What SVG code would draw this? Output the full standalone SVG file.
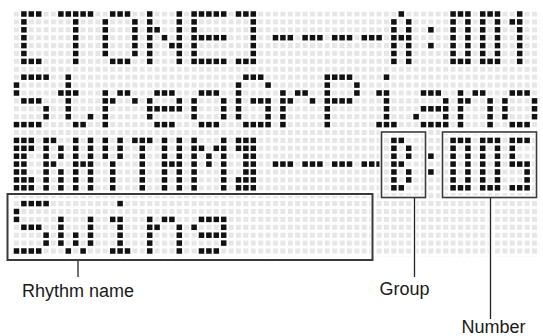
<svg xmlns="http://www.w3.org/2000/svg" width="543" height="336" viewBox="0 0 543 336">
<style>
.lbl{font-family:"Liberation Sans",Arial,Helvetica,sans-serif;font-size:18px;fill:#1a1a1a}
.box{fill:none;stroke:#3a3a3a;stroke-width:1.6}
.halo{fill:none;stroke:#fff;stroke-width:4}
.con{stroke:#222;stroke-width:1.3;fill:none}
.conh{stroke:#fff;stroke-width:4;fill:none}
</style>
<defs>
<pattern id="grid" x="14" y="11.5" width="7.4" height="7.9" patternUnits="userSpaceOnUse"><rect width="5" height="5" fill="#e6e6e6"/></pattern>
<rect id="d" x="-0.034" y="-0.032" width="0.743" height="0.696"/>
<g id="g-lb"><use href="#d" x="0"/><use href="#d" x="1"/><use href="#d" x="2"/><use href="#d" y="1"/><use href="#d" y="2"/><use href="#d" y="3"/><use href="#d" y="4"/><use href="#d" y="5"/><use href="#d" y="6"/><use href="#d" x="1" y="6"/><use href="#d" x="2" y="6"/></g>
<g id="g-rb"><use href="#d" x="0"/><use href="#d" x="1"/><use href="#d" x="2"/><use href="#d" x="2" y="1"/><use href="#d" x="2" y="2"/><use href="#d" x="2" y="3"/><use href="#d" x="2" y="4"/><use href="#d" x="2" y="5"/><use href="#d" y="6"/><use href="#d" x="1" y="6"/><use href="#d" x="2" y="6"/></g>
<g id="g-T"><use href="#d" x="0"/><use href="#d" x="1"/><use href="#d" x="2"/><use href="#d" x="3"/><use href="#d" x="4"/><use href="#d" x="2" y="1"/><use href="#d" x="2" y="2"/><use href="#d" x="2" y="3"/><use href="#d" x="2" y="4"/><use href="#d" x="2" y="5"/><use href="#d" x="2" y="6"/></g>
<g id="g-O"><use href="#d" x="1"/><use href="#d" x="2"/><use href="#d" x="3"/><use href="#d" y="1"/><use href="#d" x="4" y="1"/><use href="#d" y="2"/><use href="#d" x="4" y="2"/><use href="#d" y="3"/><use href="#d" x="4" y="3"/><use href="#d" y="4"/><use href="#d" x="4" y="4"/><use href="#d" y="5"/><use href="#d" x="4" y="5"/><use href="#d" x="1" y="6"/><use href="#d" x="2" y="6"/><use href="#d" x="3" y="6"/></g>
<g id="g-N"><use href="#d"/><use href="#d" x="4"/><use href="#d" y="1"/><use href="#d" x="4" y="1"/><use href="#d" y="2"/><use href="#d" x="1" y="2"/><use href="#d" x="4" y="2"/><use href="#d" y="3"/><use href="#d" x="2" y="3"/><use href="#d" x="4" y="3"/><use href="#d" y="4"/><use href="#d" x="3" y="4"/><use href="#d" x="4" y="4"/><use href="#d" y="5"/><use href="#d" x="4" y="5"/><use href="#d" y="6"/><use href="#d" x="4" y="6"/></g>
<g id="g-E"><use href="#d"/><use href="#d" x="1"/><use href="#d" x="2"/><use href="#d" x="3"/><use href="#d" x="4"/><use href="#d" y="1"/><use href="#d" y="2"/><use href="#d" y="3"/><use href="#d" x="1" y="3"/><use href="#d" x="2" y="3"/><use href="#d" x="3" y="3"/><use href="#d" x="4" y="3"/><use href="#d" y="4"/><use href="#d" y="5"/><use href="#d" y="6"/><use href="#d" x="1" y="6"/><use href="#d" x="2" y="6"/><use href="#d" x="3" y="6"/><use href="#d" x="4" y="6"/></g>
<g id="g-dash"><use href="#d" y="3"/><use href="#d" x="1" y="3"/><use href="#d" x="2" y="3"/></g>
<g id="g-A"><use href="#d" x="1"/><use href="#d" y="1"/><use href="#d" x="2" y="1"/><use href="#d" y="2"/><use href="#d" x="2" y="2"/><use href="#d" y="3"/><use href="#d" x="1" y="3"/><use href="#d" x="2" y="3"/><use href="#d" y="4"/><use href="#d" x="2" y="4"/><use href="#d" y="5"/><use href="#d" x="2" y="5"/><use href="#d" y="6"/><use href="#d" x="2" y="6"/></g>
<g id="g-col"><use href="#d" y="2"/><use href="#d" y="4"/></g>
<g id="g-0"><use href="#d"/><use href="#d" x="1"/><use href="#d" x="2"/><use href="#d" y="1"/><use href="#d" x="2" y="1"/><use href="#d" y="2"/><use href="#d" x="2" y="2"/><use href="#d" y="3"/><use href="#d" x="2" y="3"/><use href="#d" y="4"/><use href="#d" x="2" y="4"/><use href="#d" y="5"/><use href="#d" x="2" y="5"/><use href="#d" y="6"/><use href="#d" x="1" y="6"/><use href="#d" x="2" y="6"/></g>
<g id="g-1"><use href="#d" x="1"/><use href="#d" y="1"/><use href="#d" x="1" y="1"/><use href="#d" x="1" y="2"/><use href="#d" x="1" y="3"/><use href="#d" x="1" y="4"/><use href="#d" x="1" y="5"/><use href="#d" x="1" y="6"/></g>
<g id="g-5"><use href="#d"/><use href="#d" x="1"/><use href="#d" x="2"/><use href="#d" y="1"/><use href="#d" y="2"/><use href="#d" y="3"/><use href="#d" x="1" y="3"/><use href="#d" x="2" y="3"/><use href="#d" x="2" y="4"/><use href="#d" x="2" y="5"/><use href="#d" y="6"/><use href="#d" x="1" y="6"/><use href="#d" x="2" y="6"/></g>
<g id="g-B"><use href="#d"/><use href="#d" x="1"/><use href="#d" y="1"/><use href="#d" x="2" y="1"/><use href="#d" y="2"/><use href="#d" x="2" y="2"/><use href="#d" y="3"/><use href="#d" x="1" y="3"/><use href="#d" y="4"/><use href="#d" x="2" y="4"/><use href="#d" y="5"/><use href="#d" x="2" y="5"/><use href="#d" y="6"/><use href="#d" x="1" y="6"/></g>
<g id="g-S"><use href="#d" x="1"/><use href="#d" x="2"/><use href="#d" x="3"/><use href="#d" x="4"/><use href="#d" y="1"/><use href="#d" y="2"/><use href="#d" x="1" y="3"/><use href="#d" x="2" y="3"/><use href="#d" x="3" y="3"/><use href="#d" x="4" y="4"/><use href="#d" x="4" y="5"/><use href="#d" y="6"/><use href="#d" x="1" y="6"/><use href="#d" x="2" y="6"/><use href="#d" x="3" y="6"/></g>
<g id="g-t"><use href="#d" x="1"/><use href="#d" x="1" y="1"/><use href="#d" y="2"/><use href="#d" x="1" y="2"/><use href="#d" x="2" y="2"/><use href="#d" x="1" y="3"/><use href="#d" x="1" y="4"/><use href="#d" x="1" y="5"/><use href="#d" x="4" y="5"/><use href="#d" x="2" y="6"/><use href="#d" x="3" y="6"/></g>
<g id="g-r"><use href="#d" y="2"/><use href="#d" x="2" y="2"/><use href="#d" x="3" y="2"/><use href="#d" y="3"/><use href="#d" x="1" y="3"/><use href="#d" x="4" y="3"/><use href="#d" y="4"/><use href="#d" y="5"/><use href="#d" y="6"/></g>
<g id="g-e"><use href="#d" x="1" y="2"/><use href="#d" x="2" y="2"/><use href="#d" x="3" y="2"/><use href="#d" y="3"/><use href="#d" x="4" y="3"/><use href="#d" y="4"/><use href="#d" x="1" y="4"/><use href="#d" x="2" y="4"/><use href="#d" x="3" y="4"/><use href="#d" x="4" y="4"/><use href="#d" y="5"/><use href="#d" x="1" y="6"/><use href="#d" x="2" y="6"/><use href="#d" x="3" y="6"/></g>
<g id="g-o"><use href="#d" x="1" y="2"/><use href="#d" x="2" y="2"/><use href="#d" x="3" y="2"/><use href="#d" y="3"/><use href="#d" x="4" y="3"/><use href="#d" y="4"/><use href="#d" x="4" y="4"/><use href="#d" y="5"/><use href="#d" x="4" y="5"/><use href="#d" x="1" y="6"/><use href="#d" x="2" y="6"/><use href="#d" x="3" y="6"/></g>
<g id="g-G"><use href="#d" x="1"/><use href="#d" x="2"/><use href="#d" x="3"/><use href="#d" y="1"/><use href="#d" x="4" y="1"/><use href="#d" y="2"/><use href="#d" y="3"/><use href="#d" x="2" y="3"/><use href="#d" x="3" y="3"/><use href="#d" x="4" y="3"/><use href="#d" y="4"/><use href="#d" x="4" y="4"/><use href="#d" y="5"/><use href="#d" x="4" y="5"/><use href="#d" x="1" y="6"/><use href="#d" x="2" y="6"/><use href="#d" x="3" y="6"/><use href="#d" x="4" y="6"/></g>
<g id="g-P"><use href="#d"/><use href="#d" x="1"/><use href="#d" x="2"/><use href="#d" x="3"/><use href="#d" y="1"/><use href="#d" x="4" y="1"/><use href="#d" y="2"/><use href="#d" x="4" y="2"/><use href="#d" y="3"/><use href="#d" x="1" y="3"/><use href="#d" x="2" y="3"/><use href="#d" x="3" y="3"/><use href="#d" y="4"/><use href="#d" y="5"/><use href="#d" y="6"/></g>
<g id="g-i"><use href="#d" x="2"/><use href="#d" x="1" y="2"/><use href="#d" x="2" y="2"/><use href="#d" x="2" y="3"/><use href="#d" x="2" y="4"/><use href="#d" x="2" y="5"/><use href="#d" x="1" y="6"/><use href="#d" x="2" y="6"/><use href="#d" x="3" y="6"/></g>
<g id="g-a"><use href="#d" x="1" y="2"/><use href="#d" x="2" y="2"/><use href="#d" x="3" y="2"/><use href="#d" x="4" y="3"/><use href="#d" x="1" y="4"/><use href="#d" x="2" y="4"/><use href="#d" x="3" y="4"/><use href="#d" x="4" y="4"/><use href="#d" y="5"/><use href="#d" x="4" y="5"/><use href="#d" x="1" y="6"/><use href="#d" x="2" y="6"/><use href="#d" x="3" y="6"/><use href="#d" x="4" y="6"/></g>
<g id="g-n"><use href="#d" y="2"/><use href="#d" x="2" y="2"/><use href="#d" x="3" y="2"/><use href="#d" y="3"/><use href="#d" x="1" y="3"/><use href="#d" x="4" y="3"/><use href="#d" y="4"/><use href="#d" x="4" y="4"/><use href="#d" y="5"/><use href="#d" x="4" y="5"/><use href="#d" y="6"/><use href="#d" x="4" y="6"/></g>
<g id="g-w"><use href="#d" y="2"/><use href="#d" x="4" y="2"/><use href="#d" y="3"/><use href="#d" x="4" y="3"/><use href="#d" y="4"/><use href="#d" x="2" y="4"/><use href="#d" x="4" y="4"/><use href="#d" y="5"/><use href="#d" x="2" y="5"/><use href="#d" x="4" y="5"/><use href="#d" x="1" y="6"/><use href="#d" x="3" y="6"/></g>
<g id="g-g"><use href="#d" x="1" y="2"/><use href="#d" x="2" y="2"/><use href="#d" x="3" y="2"/><use href="#d" x="4" y="2"/><use href="#d" y="3"/><use href="#d" x="4" y="3"/><use href="#d" x="1" y="4"/><use href="#d" x="2" y="4"/><use href="#d" x="3" y="4"/><use href="#d" x="4" y="4"/><use href="#d" x="4" y="5"/><use href="#d" x="1" y="6"/><use href="#d" x="2" y="6"/><use href="#d" x="3" y="6"/></g>
<g id="g-LB"><use href="#d"/><use href="#d" x="1"/><use href="#d" x="2"/><use href="#d" y="1"/><use href="#d" x="1" y="1"/><use href="#d" x="2" y="1"/><use href="#d" y="2"/><use href="#d" x="1" y="2"/><use href="#d" y="3"/><use href="#d" x="1" y="3"/><use href="#d" y="4"/><use href="#d" x="1" y="4"/><use href="#d" y="5"/><use href="#d" x="1" y="5"/><use href="#d" x="2" y="5"/><use href="#d" y="6"/><use href="#d" x="1" y="6"/><use href="#d" x="2" y="6"/></g>
<g id="g-RB"><use href="#d"/><use href="#d" x="1"/><use href="#d" x="2"/><use href="#d" y="1"/><use href="#d" x="1" y="1"/><use href="#d" x="2" y="1"/><use href="#d" x="1" y="2"/><use href="#d" x="2" y="2"/><use href="#d" x="1" y="3"/><use href="#d" x="2" y="3"/><use href="#d" x="1" y="4"/><use href="#d" x="2" y="4"/><use href="#d" y="5"/><use href="#d" x="1" y="5"/><use href="#d" x="2" y="5"/><use href="#d" y="6"/><use href="#d" x="1" y="6"/><use href="#d" x="2" y="6"/></g>
<g id="g-R3"><use href="#d"/><use href="#d" x="1"/><use href="#d" y="1"/><use href="#d" x="2" y="1"/><use href="#d" y="2"/><use href="#d" x="2" y="2"/><use href="#d" y="3"/><use href="#d" x="1" y="3"/><use href="#d" y="4"/><use href="#d" x="2" y="4"/><use href="#d" y="5"/><use href="#d" x="2" y="5"/><use href="#d" y="6"/><use href="#d" x="2" y="6"/></g>
<g id="g-H3"><use href="#d"/><use href="#d" x="2"/><use href="#d" y="1"/><use href="#d" x="2" y="1"/><use href="#d" y="2"/><use href="#d" x="2" y="2"/><use href="#d" y="3"/><use href="#d" x="1" y="3"/><use href="#d" x="2" y="3"/><use href="#d" y="4"/><use href="#d" x="2" y="4"/><use href="#d" y="5"/><use href="#d" x="2" y="5"/><use href="#d" y="6"/><use href="#d" x="2" y="6"/></g>
<g id="g-Y3"><use href="#d"/><use href="#d" x="2"/><use href="#d" y="1"/><use href="#d" x="2" y="1"/><use href="#d" y="2"/><use href="#d" x="2" y="2"/><use href="#d" x="1" y="3"/><use href="#d" x="1" y="4"/><use href="#d" x="1" y="5"/><use href="#d" x="1" y="6"/></g>
<g id="g-T3"><use href="#d"/><use href="#d" x="1"/><use href="#d" x="2"/><use href="#d" x="1" y="1"/><use href="#d" x="1" y="2"/><use href="#d" x="1" y="3"/><use href="#d" x="1" y="4"/><use href="#d" x="1" y="5"/><use href="#d" x="1" y="6"/></g>
<g id="g-M"><use href="#d"/><use href="#d" x="4"/><use href="#d" y="1"/><use href="#d" x="1" y="1"/><use href="#d" x="3" y="1"/><use href="#d" x="4" y="1"/><use href="#d" y="2"/><use href="#d" x="2" y="2"/><use href="#d" x="4" y="2"/><use href="#d" y="3"/><use href="#d" x="2" y="3"/><use href="#d" x="4" y="3"/><use href="#d" y="4"/><use href="#d" x="4" y="4"/><use href="#d" y="5"/><use href="#d" x="4" y="5"/><use href="#d" y="6"/><use href="#d" x="4" y="6"/></g>
</defs>
<rect width="543" height="336" fill="#fff"/>
<g id="display">
<rect x="14" y="11.5" width="525.4" height="244.9" fill="url(#grid)"/>
<g transform="translate(14 11.5) scale(7.4 7.9)" fill="#111">
<g id="line1"><title>[TONE]----A:001</title>
<use href="#g-lb" x="1" y="0"/><use href="#g-T" x="6" y="0"/><use href="#g-O" x="12" y="0"/><use href="#g-N" x="18" y="0"/><use href="#g-E" x="24" y="0"/><use href="#g-rb" x="30" y="0"/><use href="#g-dash" x="35" y="0"/><use href="#g-dash" x="39" y="0"/><use href="#g-dash" x="43" y="0"/><use href="#g-dash" x="47" y="0"/><use href="#g-A" x="51" y="0"/><use href="#g-col" x="56" y="0"/><use href="#g-0" x="59" y="0"/><use href="#g-0" x="63" y="0"/><use href="#g-1" x="67" y="0"/>
</g>
<g id="line2"><title>StreoGrPiano</title>
<use href="#g-S" x="0" y="8"/><use href="#g-t" x="6" y="8"/><use href="#g-r" x="12" y="8"/><use href="#g-e" x="18" y="8"/><use href="#g-o" x="24" y="8"/><use href="#g-G" x="30" y="8"/><use href="#g-r" x="36" y="8"/><use href="#g-P" x="42" y="8"/><use href="#g-i" x="48" y="8"/><use href="#g-a" x="54" y="8"/><use href="#g-n" x="60" y="8"/><use href="#g-o" x="66" y="8"/>
</g>
<g id="line3"><title>【RHYTHM】----B:005</title>
<use href="#g-LB" x="0" y="16"/><use href="#g-R3" x="4" y="16"/><use href="#g-H3" x="8" y="16"/><use href="#g-Y3" x="12" y="16"/><use href="#g-T3" x="16" y="16"/><use href="#g-H3" x="20" y="16"/><use href="#g-M" x="24" y="16"/><use href="#g-RB" x="30" y="16"/><use href="#g-dash" x="35" y="16"/><use href="#g-dash" x="39" y="16"/><use href="#g-dash" x="43" y="16"/><use href="#g-dash" x="47" y="16"/><use href="#g-B" x="51" y="16"/><use href="#g-col" x="56" y="16"/><use href="#g-0" x="59" y="16"/><use href="#g-0" x="63" y="16"/><use href="#g-5" x="67" y="16"/>
</g>
<g id="line4"><title>Swing</title>
<use href="#g-S" x="0" y="24"/><use href="#g-w" x="6" y="24"/><use href="#g-i" x="12" y="24"/><use href="#g-n" x="18" y="24"/><use href="#g-g" x="24" y="24"/>
</g>
</g>
</g>
<g id="box-rhythm"><rect class="halo" x="7.5" y="194" width="365" height="66"/><rect class="box" x="7.5" y="194" width="365" height="66" style="stroke-width:2"/></g>
<g id="box-group"><rect class="halo" x="381.5" y="132" width="44" height="65.5"/><rect class="box" x="381.5" y="132" width="44" height="65.5"/></g>
<g id="box-number"><rect class="halo" x="442.5" y="132" width="94" height="65.5"/><rect class="box" x="442.5" y="132" width="94" height="65.5"/></g>
<g id="connectors">
<line class="conh" x1="78" y1="262" x2="78" y2="277"/><line class="con" x1="78" y1="261" x2="78" y2="277"/>
<line class="conh" x1="414.5" y1="199" x2="414.5" y2="277"/><line class="con" x1="414.5" y1="198" x2="414.5" y2="277"/>
<line class="conh" x1="490.5" y1="199" x2="490.5" y2="319"/><line class="con" x1="490.5" y1="198" x2="490.5" y2="319"/>
</g>
<g id="label-rhythm"><text class="lbl" x="78" y="297" text-anchor="middle">Rhythm name</text></g>
<g id="label-group"><text class="lbl" x="404.5" y="295" text-anchor="middle">Group</text></g>
<g id="label-number"><text class="lbl" x="493.5" y="333" text-anchor="middle">Number</text></g>
</svg>
